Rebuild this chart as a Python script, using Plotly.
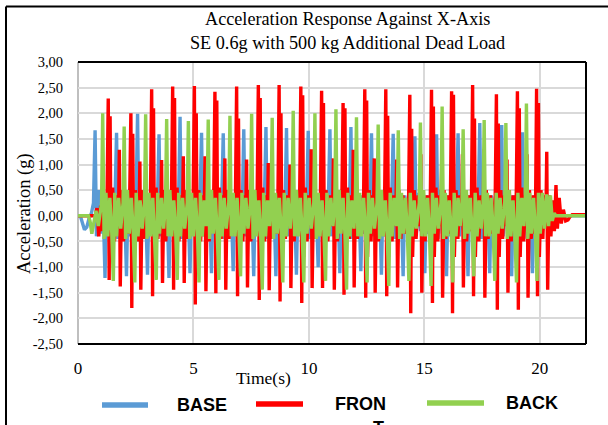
import plotly.graph_objects as go

# ---------------- data ----------------
BASE_T = [
    0.00, 0.10, 0.18, 0.28, 0.38, 0.48, 0.58,
    0.67, 0.74, 0.80, 0.89, 0.99, 1.08, 1.17, 1.24, 1.34, 1.44, 1.54,
    1.60, 1.67, 1.73, 1.82, 1.92, 2.01, 2.10, 2.17, 2.27, 2.37, 2.47,
    2.51, 2.58, 2.64, 2.73, 2.83, 2.92, 3.01, 3.08, 3.18, 3.28, 3.38,
    3.44, 3.51, 3.57, 3.66, 3.76, 3.85, 3.94, 4.01, 4.11, 4.21, 4.31,
    4.35, 4.42, 4.48, 4.57, 4.67, 4.76, 4.85, 4.92, 5.02, 5.12, 5.22,
    5.28, 5.35, 5.41, 5.50, 5.60, 5.69, 5.78, 5.85, 5.95, 6.05, 6.15,
    6.22, 6.29, 6.35, 6.44, 6.54, 6.63, 6.72, 6.79, 6.89, 6.99, 7.07,
    7.12, 7.18, 7.24, 7.33, 7.43, 7.52, 7.61, 7.68, 7.78, 7.88, 7.98,
    8.07, 8.14, 8.20, 8.29, 8.39, 8.48, 8.57, 8.64, 8.74, 8.84, 8.92,
    8.97, 9.03, 9.09, 9.18, 9.28, 9.37, 9.46, 9.53, 9.63, 9.73, 9.83,
    9.90, 9.97, 10.03, 10.12, 10.22, 10.31, 10.40, 10.47, 10.57, 10.67, 10.77,
    10.84, 10.91, 10.97, 11.06, 11.16, 11.25, 11.34, 11.41, 11.51, 11.61, 11.70,
    11.76, 11.82, 11.88, 11.97, 12.07, 12.16, 12.25, 12.32, 12.42, 12.52, 12.60,
    12.65, 12.71, 12.77, 12.86, 12.96, 13.05, 13.14, 13.21, 13.31, 13.41, 13.51,
    13.58, 13.65, 13.71, 13.80, 13.90, 13.99, 14.08, 14.15, 14.25, 14.35, 14.45,
    14.52, 14.59, 14.65, 14.74, 14.84, 14.93, 15.02, 15.09, 15.19, 15.29, 15.39,
    15.46, 15.53, 15.59, 15.68, 15.78, 15.87, 15.96, 16.03, 16.13, 16.23, 16.32,
    16.39, 16.46, 16.52, 16.61, 16.71, 16.80, 16.89, 16.96, 17.06, 17.16, 17.26,
    17.33, 17.40, 17.46, 17.55, 17.65, 17.74, 17.83, 17.90, 18.00, 18.10, 18.20,
    18.28, 18.35, 18.41, 18.50, 18.60, 18.69, 18.78, 18.85, 18.95, 19.05, 19.13,
    19.19, 19.25, 19.31, 19.40, 19.50, 19.59, 19.68, 19.75, 19.85, 19.95, 20.05,
    20.15, 20.28, 20.42, 20.55, 22.00,
]
BASE_V = [
    0.00, 0.00, -0.12, -0.27, -0.22, -0.05, 0.05,
    0.25, 1.67, -0.40, 0.50, -0.35, 0.40, -1.21, 0.40, -0.35, 0.30, -0.25,
    0.25, 1.62, -0.45, 0.45, -0.30, 0.35, -1.18, 0.40, -0.40, 0.30, -0.20,
    0.20, 1.99, -0.50, 0.50, -0.35, 0.30, -1.15, 0.40, -0.35, 0.25, -0.20,
    0.25, 1.59, -0.40, 0.45, -0.30, 0.40, -1.21, 0.40, -0.35, 0.30, -0.25,
    0.20, 1.93, -0.45, 0.50, -0.35, 0.35, -1.12, 0.40, -0.30, 0.30, -0.20,
    0.25, 1.62, -0.40, 0.45, -0.35, 0.40, -1.12, 0.40, -0.35, 0.25, -0.20,
    0.20, 1.61, -0.45, 0.50, -0.30, 0.35, -1.08, 0.40, -0.40, 0.30, -0.20,
    0.25, 1.69, -0.40, 0.45, -0.35, 0.40, -1.18, 0.40, -0.35, 0.30, -0.25,
    0.20, 1.73, -0.45, 0.50, -0.35, 0.35, -1.18, 0.40, -0.30, 0.30, -0.20,
    0.25, 1.71, -0.40, 0.45, -0.30, 0.40, -1.15, 0.40, -0.35, 0.25, -0.20,
    0.20, 1.66, -0.45, 0.50, -0.35, 0.35, -1.00, 0.40, -0.40, 0.30, -0.25,
    0.25, 1.69, -0.40, 0.45, -0.35, 0.40, -1.12, 0.40, -0.30, 0.30, -0.20,
    0.20, 1.73, -0.45, 0.50, -0.30, 0.35, -1.08, 0.40, -0.35, 0.25, -0.20,
    0.25, 1.61, -0.40, 0.45, -0.35, 0.40, -1.15, 0.40, -0.40, 0.30, -0.25,
    0.20, 1.60, -0.45, 0.50, -0.35, 0.35, -1.18, 0.40, -0.30, 0.30, -0.20,
    0.25, 1.55, -0.40, 0.45, -0.30, 0.40, -1.12, 0.40, -0.35, 0.25, -0.20,
    0.20, 1.59, -0.45, 0.50, -0.35, 0.35, -1.18, 0.40, -0.40, 0.30, -0.25,
    0.25, 1.61, -0.40, 0.45, -0.35, 0.40, -1.18, 0.40, -0.30, 0.30, -0.20,
    0.20, 1.81, -0.45, 0.50, -0.30, 0.35, -1.12, 0.40, -0.35, 0.25, -0.20,
    0.25, 1.77, -0.40, 0.45, -0.35, 0.40, -1.18, 0.40, -0.40, 0.30, -0.25,
    0.20, 1.63, -0.45, 0.50, -0.35, 0.35, -1.12, 0.40, -0.30, 0.30, -0.20,
    0.15, -0.10, 0.05, 0.00, 0.00,
]

FRONT_T = [
    0.00, 0.75, 0.82, 0.90, 0.98, 1.06, 1.14, 1.21,
    1.26, 1.31, 1.35, 1.39, 1.43, 1.50, 1.58, 1.66, 1.75, 1.79, 1.83, 1.89, 1.97, 2.06, 2.15,
    2.24, 2.29, 2.33, 2.37, 2.41, 2.48, 2.56, 2.61, 2.64, 2.68, 2.72, 2.78, 2.86, 2.95, 3.04,
    3.14, 3.19, 3.23, 3.27, 3.31, 3.38, 3.46, 3.53, 3.58, 3.62, 3.66, 3.72, 3.80, 3.89, 3.98,
    4.05, 4.10, 4.14, 4.18, 4.22, 4.29, 4.37, 4.45, 4.52, 4.56, 4.60, 4.66, 4.74, 4.83, 4.92,
    4.99, 5.04, 5.08, 5.12, 5.16, 5.23, 5.31, 5.39, 5.46, 5.50, 5.54, 5.60, 5.68, 5.77, 5.86,
    5.88, 5.93, 5.97, 6.01, 6.05, 6.12, 6.20, 6.27, 6.32, 6.36, 6.40, 6.46, 6.54, 6.63, 6.72,
    6.82, 6.87, 6.91, 6.95, 6.99, 7.06, 7.14, 7.21, 7.26, 7.30, 7.34, 7.40, 7.48, 7.57, 7.66,
    7.76, 7.81, 7.85, 7.89, 7.93, 8.00, 8.08, 8.15, 8.20, 8.24, 8.28, 8.34, 8.42, 8.51, 8.60,
    8.66, 8.71, 8.75, 8.79, 8.83, 8.90, 8.98, 9.06, 9.14, 9.18, 9.22, 9.28, 9.36, 9.45, 9.54,
    9.60, 9.65, 9.69, 9.73, 9.77, 9.84, 9.92, 10.00, 10.06, 10.10, 10.14, 10.20, 10.28, 10.37, 10.45,
    10.50, 10.55, 10.59, 10.63, 10.67, 10.74, 10.82, 10.92, 11.02, 11.06, 11.10, 11.16, 11.24, 11.32, 11.39,
    11.43, 11.48, 11.52, 11.56, 11.60, 11.67, 11.75, 11.83, 11.88, 11.92, 11.96, 12.02, 12.10, 12.19, 12.28,
    12.37, 12.42, 12.46, 12.50, 12.54, 12.61, 12.69, 12.75, 12.79, 12.83, 12.87, 12.93, 13.01, 13.10, 13.20,
    13.28, 13.33, 13.37, 13.41, 13.45, 13.52, 13.60, 13.68, 13.76, 13.80, 13.84, 13.90, 13.98, 14.07, 14.17,
    14.32, 14.37, 14.41, 14.45, 14.49, 14.56, 14.64, 14.73, 14.81, 14.85, 14.89, 14.95, 15.03, 15.12, 15.21,
    15.26, 15.31, 15.35, 15.39, 15.43, 15.50, 15.58, 15.66, 15.71, 15.75, 15.79, 15.85, 15.93, 16.01, 16.09,
    16.13, 16.18, 16.22, 16.26, 16.30, 16.37, 16.45, 16.53, 16.61, 16.65, 16.69, 16.75, 16.83, 16.92, 17.00,
    17.04, 17.09, 17.13, 17.17, 17.21, 17.28, 17.36, 17.45, 17.54, 17.58, 17.62, 17.68, 17.76, 17.86, 17.96,
    18.07, 18.12, 18.16, 18.20, 18.24, 18.31, 18.39, 18.47, 18.54, 18.58, 18.62, 18.68, 18.76, 18.85, 18.93,
    18.98, 19.03, 19.07, 19.11, 19.15, 19.22, 19.30, 19.37, 19.41, 19.45, 19.49, 19.55, 19.63, 19.72, 19.78,
    19.82, 19.86, 19.90, 19.94, 19.98, 20.05, 20.13, 20.20, 20.26, 20.30, 20.34, 20.40, 20.48, 20.56, 20.63,
    20.70, 20.76, 20.84, 20.93, 21.02, 21.12, 21.22, 21.30, 21.40, 22.00,
]
FRONT_V = [
    0.00, 0.00, 0.15, -0.40, 0.20, -0.30, 0.25, -0.20,
    0.40, 2.29, -1.25, 1.94, -0.80, 0.55, -0.50, 0.40, -0.20, 1.29, -1.38, 0.50, -0.50, 0.40, -0.35,
    0.40, 2.00, -1.80, 1.60, -0.75, 0.50, -0.50, 0.35, -0.20, 1.06, -1.44, 0.50, -0.45, 0.40, -0.35,
    0.40, 2.47, -1.57, 2.10, -0.80, 0.55, -0.45, 0.40, -0.20, 1.09, -1.31, 0.50, -0.50, 0.40, -0.30,
    0.40, 2.52, -1.44, 2.30, -0.80, 0.55, -0.50, 0.40, -0.20, 1.16, -1.31, 0.50, -0.45, 0.40, -0.35,
    0.40, 2.53, -1.73, 2.00, -0.80, 0.50, -0.50, 0.40, -0.20, 1.16, -1.47, 0.50, -0.50, 0.40, -0.30,
    0.40, 2.42, -1.51, 2.25, -0.80, 0.55, -0.45, 0.40, -0.20, 1.12, -1.44, 0.50, -0.45, 0.40, -0.35,
    0.40, 2.52, -1.57, 1.90, -0.80, 0.50, -0.50, 0.40, -0.20, 1.10, -1.40, 0.50, -0.50, 0.40, -0.30,
    0.40, 2.55, -1.64, 2.30, -0.80, 0.55, -0.50, 0.40, -0.20, 1.03, -1.45, 0.50, -0.45, 0.40, -0.35,
    0.40, 2.55, -1.67, 2.00, -0.80, 0.50, -0.45, 0.40, -0.20, 1.00, -1.41, 0.50, -0.50, 0.40, -0.30,
    0.40, 2.52, -1.70, 2.35, -0.80, 0.55, -0.50, 0.40, -0.20, 1.30, -1.41, 0.50, -0.45, 0.40, -0.35,
    0.40, 2.44, -1.41, 2.20, -0.80, 0.50, -0.50, 0.40, -0.20, 1.12, -1.44, 0.50, -0.50, 0.40, -0.30,
    0.40, 2.20, -1.54, 2.10, -0.80, 0.55, -0.45, 0.40, -0.20, 1.29, -1.40, 0.50, -0.45, 0.40, -0.35,
    0.40, 2.47, -1.60, 2.25, -0.80, 0.50, -0.50, 0.40, -0.20, 1.12, -1.50, 0.50, -0.50, 0.40, -0.30,
    0.40, 2.47, -1.57, 1.95, -0.80, 0.55, -0.50, 0.40, -0.20, 1.10, -1.40, 0.50, -0.45, 0.40, -0.35,
    0.40, 2.36, -1.90, 1.70, -0.80, 0.50, -0.45, 0.40, -0.20, 1.20, -1.50, 0.50, -0.50, 0.40, -0.30,
    0.40, 2.46, -1.70, 2.13, -0.80, 0.55, -0.50, 0.40, -0.20, 1.00, -1.60, 0.50, -0.45, 0.40, -0.35,
    0.40, 2.43, -1.90, 2.36, -0.80, 0.50, -0.45, 0.40, -0.20, 1.20, -1.40, 0.50, -0.50, 0.40, -0.30,
    0.40, 2.55, -1.57, 1.90, -0.80, 0.55, -0.50, 0.40, -0.20, 1.30, -1.60, 0.50, -0.45, 0.40, -0.35,
    0.40, 2.37, -1.83, 1.80, -0.80, 0.50, -0.45, 0.40, -0.20, 1.10, -1.50, 0.50, -0.50, 0.40, -0.30,
    0.40, 2.43, -1.83, 2.10, -0.80, 0.55, -0.50, 0.40, -0.20, 1.20, -1.60, 0.50, -0.45, 0.40, -0.35,
    0.40, 2.48, -1.57, 2.20, -0.80, 0.50, -0.45, 0.40, -0.20, 1.25, -1.44, 0.40, -0.40, 0.30, -0.30,
    0.60, -0.25, 0.35, -0.15, 0.12, -0.10, -0.08, -0.02, 0.02, 0.02,
]

BACK_T = [
    0.00, 0.45, 0.52, 0.60, 0.68, 0.78, 0.88, 0.97,
    1.02, 1.07, 1.13, 1.21, 1.29, 1.38, 1.46, 1.53, 1.59, 1.67, 1.76, 1.85,
    1.95, 2.00, 2.06, 2.14, 2.22, 2.31, 2.39, 2.46, 2.52, 2.60, 2.69, 2.78,
    2.88, 2.93, 2.99, 3.07, 3.15, 3.24, 3.32, 3.39, 3.45, 3.53, 3.62, 3.71,
    3.79, 3.84, 3.90, 3.98, 4.06, 4.15, 4.23, 4.30, 4.36, 4.44, 4.53, 4.62,
    4.73, 4.78, 4.84, 4.92, 5.00, 5.09, 5.17, 5.24, 5.30, 5.38, 5.47, 5.55,
    5.59, 5.64, 5.70, 5.78, 5.86, 5.95, 6.03, 6.10, 6.16, 6.24, 6.33, 6.42,
    6.53, 6.58, 6.64, 6.72, 6.80, 6.89, 6.97, 7.04, 7.10, 7.18, 7.27, 7.36,
    7.47, 7.52, 7.58, 7.66, 7.74, 7.83, 7.91, 7.98, 8.04, 8.12, 8.21, 8.30,
    8.36, 8.41, 8.47, 8.55, 8.63, 8.72, 8.80, 8.87, 8.93, 9.01, 9.10, 9.19,
    9.27, 9.32, 9.38, 9.46, 9.54, 9.63, 9.71, 9.78, 9.84, 9.92, 10.01, 10.10,
    10.21, 10.26, 10.32, 10.40, 10.48, 10.57, 10.65, 10.72, 10.78, 10.86, 10.95, 11.04,
    11.12, 11.17, 11.23, 11.31, 11.39, 11.48, 11.56, 11.63, 11.69, 11.77, 11.86, 11.95,
    12.01, 12.06, 12.12, 12.20, 12.28, 12.37, 12.45, 12.52, 12.58, 12.66, 12.75, 12.84,
    12.95, 13.00, 13.06, 13.14, 13.22, 13.31, 13.39, 13.46, 13.52, 13.60, 13.69, 13.78,
    13.83, 13.87, 13.93, 14.01, 14.09, 14.18, 14.26, 14.33, 14.39, 14.47, 14.56, 14.65,
    14.78, 14.83, 14.89, 14.97, 15.05, 15.14, 15.22, 15.29, 15.35, 15.43, 15.52, 15.61,
    15.72, 15.77, 15.83, 15.91, 15.99, 16.08, 16.16, 16.23, 16.29, 16.37, 16.46, 16.55,
    16.63, 16.68, 16.74, 16.82, 16.90, 16.99, 17.07, 17.14, 17.20, 17.28, 17.37, 17.46,
    17.54, 17.59, 17.65, 17.73, 17.81, 17.90, 17.98, 18.05, 18.11, 18.19, 18.28, 18.37,
    18.48, 18.53, 18.59, 18.67, 18.75, 18.84, 18.92, 18.99, 19.05, 19.13, 19.22, 19.31,
    19.37, 19.42, 19.48, 19.56, 19.64, 19.73, 19.81, 19.88, 19.94, 20.02, 20.11, 20.20,
    20.30, 20.38, 20.46, 20.54, 20.62, 20.70, 22.00,
]
BACK_V = [
    0.00, 0.00, -0.10, -0.35, -0.15, 0.10, -0.20, 0.15,
    0.25, 2.00, -0.45, 0.45, -0.40, 0.35, -0.30, -1.27, 0.45, -0.40, 0.35, -0.25,
    0.25, 1.74, -0.45, 0.50, -0.35, 0.35, -0.30, -1.30, 0.45, -0.40, 0.30, -0.25,
    0.25, 1.98, -0.45, 0.45, -0.40, 0.35, -0.35, -1.25, 0.45, -0.35, 0.35, -0.25,
    0.25, 1.89, -0.40, 0.50, -0.40, 0.30, -0.30, -1.25, 0.45, -0.40, 0.35, -0.25,
    0.25, 1.85, -0.45, 0.45, -0.40, 0.35, -0.30, -1.30, 0.45, -0.40, 0.30, -0.20,
    0.25, 1.88, -0.45, 0.50, -0.35, 0.35, -0.35, -1.25, 0.45, -0.40, 0.35, -0.25,
    0.25, 1.95, -0.40, 0.45, -0.40, 0.35, -0.30, -1.18, 0.45, -0.35, 0.35, -0.25,
    0.25, 1.99, -0.45, 0.50, -0.40, 0.30, -0.35, -1.44, 0.45, -0.40, 0.30, -0.20,
    0.25, 1.91, -0.45, 0.45, -0.35, 0.35, -0.30, -1.30, 0.45, -0.40, 0.35, -0.25,
    0.25, 2.05, -0.40, 0.50, -0.40, 0.35, -0.35, -1.30, 0.45, -0.35, 0.35, -0.25,
    0.25, 2.00, -0.45, 0.45, -0.40, 0.30, -0.30, -1.27, 0.45, -0.40, 0.35, -0.20,
    0.25, 2.08, -0.45, 0.50, -0.35, 0.35, -0.35, -1.44, 0.45, -0.40, 0.30, -0.25,
    0.25, 1.92, -0.40, 0.45, -0.40, 0.35, -0.30, -1.30, 0.45, -0.35, 0.35, -0.25,
    0.25, 1.78, -0.45, 0.50, -0.40, 0.30, -0.35, -1.37, 0.45, -0.40, 0.35, -0.20,
    0.25, 1.67, -0.45, 0.45, -0.35, 0.35, -0.30, -1.27, 0.45, -0.40, 0.30, -0.25,
    0.25, 1.82, -0.40, 0.50, -0.40, 0.35, -0.35, -1.37, 0.45, -0.35, 0.35, -0.25,
    0.25, 2.13, -0.45, 0.45, -0.40, 0.30, -0.30, -1.30, 0.45, -0.40, 0.35, -0.20,
    0.25, 1.69, -0.45, 0.50, -0.35, 0.35, -0.35, -1.18, 0.45, -0.40, 0.30, -0.25,
    0.25, 1.87, -0.40, 0.45, -0.40, 0.35, -0.30, -1.27, 0.45, -0.35, 0.35, -0.25,
    0.25, 1.81, -0.45, 0.50, -0.40, 0.30, -0.35, -1.30, 0.45, -0.40, 0.35, -0.20,
    0.25, 2.19, -0.45, 0.45, -0.35, 0.35, -0.30, -1.27, 0.45, -0.35, 0.45, -0.25,
    0.42, -0.20, 0.40, -0.10, 0.05, 0.00, 0.00,
]

SERIES = ["BASE", "FRONT", "BACK"]
LEGEND_LABELS = ["BASE", "FRON", "BACK"]
COLORS = ["#5B9BD5", "#FF0000", "#92D050"]

X_TICKS = [0, 5, 10, 15, 20]
Y_TICKS = [-2.5, -2.0, -1.5, -1.0, -0.5, 0.0, 0.5, 1.0, 1.5, 2.0, 2.5, 3.0]
Y_TICK_LABELS = ["-2,50", "-2,00", "-1,50", "-1,00", "-0,50", "0,00",
                 "0,50", "1,00", "1,50", "2,00", "2,50", "3,00"]

TITLE_1 = "Acceleration Response Against X-Axis"
TITLE_2 = "SE 0.6g with 500 kg Additional Dead Load"
X_TITLE = "Time(s)"
Y_TITLE = "Acceleration (g)"

# ---------------- figure ----------------
W, H = 608, 425
L, R, T, B = 78, 22, 62, 81
PW, PH = W - L - R, H - T - B


def px(x):
    return (x - L) / PW


def py(y):
    return (H - B - y) / PH


SERIF = "Liberation Serif, Times New Roman, serif"
SANS = "Liberation Sans, Arial, sans-serif"

fig = go.Figure()
for name, tx, vy, col in zip(SERIES, [BASE_T, FRONT_T, BACK_T],
                             [BASE_V, FRONT_V, BACK_V], COLORS):
    fig.add_trace(go.Scatter(x=tx, y=vy, mode="lines", name=name,
                             line=dict(color=col, width=3.4),
                             showlegend=False))

shapes = [
    # plot frame (top, right, bottom black; left grey)
    dict(type="line", xref="paper", yref="paper", x0=0, x1=1, y0=1, y1=1,
         line=dict(color="black", width=2), layer="above"),
    dict(type="line", xref="paper", yref="paper", x0=1, x1=1, y0=0, y1=1,
         line=dict(color="black", width=2), layer="above"),
    dict(type="line", xref="paper", yref="paper", x0=0, x1=1, y0=0, y1=0,
         line=dict(color="black", width=2), layer="above"),
    dict(type="line", xref="paper", yref="paper", x0=0, x1=0, y0=0, y1=1,
         line=dict(color="#bfbfbf", width=2), layer="below"),
    # outer chart border
    dict(type="line", xref="paper", yref="paper", x0=px(6), x1=px(6),
         y0=py(430), y1=py(6.5), line=dict(color="black", width=2)),
    dict(type="line", xref="paper", yref="paper", x0=px(6), x1=px(612),
         y0=py(6.5), y1=py(6.5), line=dict(color="black", width=2)),
]

annotations = [
    dict(text=TITLE_1, x=px(347), y=py(19), xref="paper", yref="paper",
         showarrow=False, xanchor="center", yanchor="middle",
         font=dict(family=SERIF, size=18.2, color="black")),
    dict(text=TITLE_2, x=px(347), y=py(43), xref="paper", yref="paper",
         showarrow=False, xanchor="center", yanchor="middle",
         font=dict(family=SERIF, size=18.2, color="black")),
    dict(text=X_TITLE, x=px(263), y=py(378), xref="paper", yref="paper",
         showarrow=False, xanchor="center", yanchor="middle",
         font=dict(family=SERIF, size=17.5, color="black")),
    dict(text=Y_TITLE, x=px(24), y=py(214), xref="paper", yref="paper",
         showarrow=False, xanchor="center", yanchor="middle", textangle=-90,
         font=dict(family=SERIF, size=18.5, color="black")),
]

# legend drawn as keys + labels
leg_lines = [(102, 148, 405), (256, 303, 404), (427, 484, 403)]
leg_text_x = [175, 333, 504]
for (x0, x1, yy), tx, lab, col in zip(leg_lines, leg_text_x, LEGEND_LABELS, COLORS):
    shapes.append(dict(type="line", xref="paper", yref="paper",
                       x0=px(x0), x1=px(x1), y0=py(yy), y1=py(yy),
                       line=dict(color=col, width=5.5)))
    annotations.append(dict(text="<b>%s</b>" % lab, x=px(tx), y=py(yy),
                            xref="paper", yref="paper", showarrow=False,
                            xanchor="left", yanchor="middle",
                            font=dict(family=SANS, size=18, color="black")))
annotations.append(dict(text="<b>T</b>", x=px(378), y=py(428), xref="paper",
                        yref="paper", showarrow=False, xanchor="center",
                        yanchor="middle",
                        font=dict(family=SANS, size=18, color="black")))

fig.update_layout(
    width=W, height=H,
    margin=dict(l=L, r=R, t=T, b=B, pad=0, autoexpand=False),
    paper_bgcolor="white", plot_bgcolor="white",
    shapes=shapes, annotations=annotations,
    showlegend=False,
    xaxis=dict(range=[0, 22], tickvals=X_TICKS, showgrid=True,
               gridcolor="#d9d9d9", gridwidth=2, zeroline=False,
               showline=False, ticks="", ticklabelstandoff=12,
               automargin=False,
               tickfont=dict(family=SERIF, size=17, color="black")),
    yaxis=dict(range=[-2.5, 3.0], tickvals=Y_TICKS, ticktext=Y_TICK_LABELS,
               showgrid=True, gridcolor="#d9d9d9", gridwidth=2,
               zeroline=False, showline=False, ticks="",
               ticklabelstandoff=14, automargin=False,
               tickfont=dict(family=SERIF, size=14.5, color="black")),
)

fig.write_html(
    "out.html",
    config={"displayModeBar": False},
    post_script="document.body.style.margin='0';document.body.style.overflow='hidden';",
)
